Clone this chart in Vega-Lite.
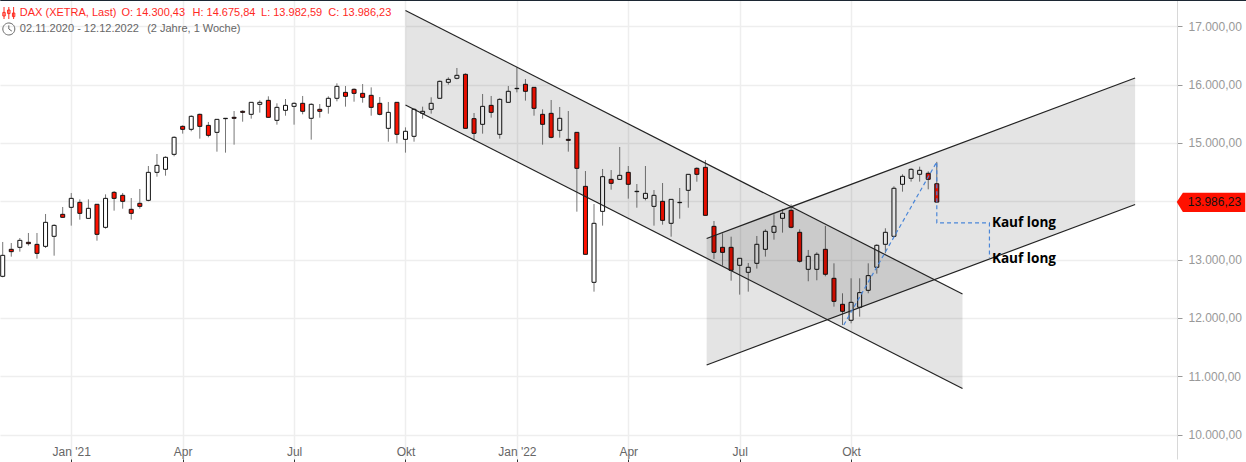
{"$schema":"https://vega.github.io/schema/vega-lite/v6.json","width":1177,"height":459,"autosize":{"type":"none"},"padding":{"left":0,"top":0,"right":69,"bottom":3},"background":"#ffffff","config":{"view":{"stroke":null},"font":"Liberation Sans"},
"datasets":{
"candles":[
{"date":"2020-11-09","open":12713,"high":13302,"low":12696,"close":13073},
{"date":"2020-11-16","open":13176,"high":13284,"low":13050,"close":13136},
{"date":"2020-11-23","open":13210,"high":13370,"low":13136,"close":13330},
{"date":"2020-11-30","open":13296,"high":13456,"low":13239,"close":13273},
{"date":"2020-12-07","open":13261,"high":13456,"low":13016,"close":13107},
{"date":"2020-12-14","open":13227,"high":13782,"low":13199,"close":13639},
{"date":"2020-12-21","open":13399,"high":13605,"low":13067,"close":13587},
{"date":"2020-12-28","open":13776,"high":13902,"low":13719,"close":13725},
{"date":"2021-01-04","open":13896,"high":14142,"low":13582,"close":14050},
{"date":"2021-01-11","open":13982,"high":14033,"low":13685,"close":13793},
{"date":"2021-01-18","open":13707,"high":14033,"low":13707,"close":13879},
{"date":"2021-01-25","open":13948,"high":13948,"low":13324,"close":13433},
{"date":"2021-02-01","open":13553,"high":14119,"low":13530,"close":14050},
{"date":"2021-02-08","open":14153,"high":14176,"low":13839,"close":14050},
{"date":"2021-02-15","open":14102,"high":14142,"low":13873,"close":13999},
{"date":"2021-02-22","open":13862,"high":14056,"low":13685,"close":13793},
{"date":"2021-03-01","open":13965,"high":14211,"low":13873,"close":13913},
{"date":"2021-03-08","open":14016,"high":14605,"low":13999,"close":14496},
{"date":"2021-03-15","open":14496,"high":14811,"low":14422,"close":14616},
{"date":"2021-03-22","open":14548,"high":14771,"low":14439,"close":14754},
{"date":"2021-03-29","open":14805,"high":15114,"low":14771,"close":15097},
{"date":"2021-04-05","open":15285,"high":15302,"low":15160,"close":15234},
{"date":"2021-04-12","open":15234,"high":15474,"low":15200,"close":15457},
{"date":"2021-04-19","open":15491,"high":15503,"low":15074,"close":15285},
{"date":"2021-04-26","open":15302,"high":15360,"low":15097,"close":15131},
{"date":"2021-05-03","open":15182,"high":15411,"low":14851,"close":15405},
{"date":"2021-05-10","open":15417,"high":15423,"low":14834,"close":15423},
{"date":"2021-05-17","open":15440,"high":15548,"low":14971,"close":15423},
{"date":"2021-05-24","open":15543,"high":15560,"low":15365,"close":15525},
{"date":"2021-05-31","open":15491,"high":15697,"low":15417,"close":15697},
{"date":"2021-06-07","open":15663,"high":15731,"low":15520,"close":15697},
{"date":"2021-06-14","open":15731,"high":15800,"low":15434,"close":15440},
{"date":"2021-06-21","open":15388,"high":15680,"low":15314,"close":15611},
{"date":"2021-06-28","open":15560,"high":15754,"low":15468,"close":15645},
{"date":"2021-07-05","open":15628,"high":15697,"low":15314,"close":15680},
{"date":"2021-07-12","open":15680,"high":15806,"low":15491,"close":15543},
{"date":"2021-07-19","open":15423,"high":15680,"low":15057,"close":15663},
{"date":"2021-07-26","open":15577,"high":15668,"low":15434,"close":15543},
{"date":"2021-08-02","open":15628,"high":15800,"low":15503,"close":15766},
{"date":"2021-08-09","open":15766,"high":16023,"low":15714,"close":15971},
{"date":"2021-08-16","open":15868,"high":15977,"low":15623,"close":15800},
{"date":"2021-08-23","open":15920,"high":15937,"low":15708,"close":15851},
{"date":"2021-08-30","open":15851,"high":16011,"low":15691,"close":15783},
{"date":"2021-09-06","open":15817,"high":15954,"low":15468,"close":15611},
{"date":"2021-09-13","open":15680,"high":15788,"low":15474,"close":15491},
{"date":"2021-09-20","open":15251,"high":15703,"low":15022,"close":15525},
{"date":"2021-09-27","open":15697,"high":15697,"low":14994,"close":15148},
{"date":"2021-10-04","open":15062,"high":15268,"low":14834,"close":15200},
{"date":"2021-10-11","open":15114,"high":15594,"low":15022,"close":15577},
{"date":"2021-10-18","open":15508,"high":15623,"low":15417,"close":15543},
{"date":"2021-10-25","open":15577,"high":15783,"low":15503,"close":15680},
{"date":"2021-11-01","open":15766,"high":16069,"low":15766,"close":16057},
{"date":"2021-11-08","open":16040,"high":16126,"low":16000,"close":16091},
{"date":"2021-11-15","open":16109,"high":16286,"low":16091,"close":16160},
{"date":"2021-11-22","open":16177,"high":16194,"low":15251,"close":15251},
{"date":"2021-11-29","open":15417,"high":15514,"low":15039,"close":15165},
{"date":"2021-12-06","open":15320,"high":15840,"low":15160,"close":15628},
{"date":"2021-12-13","open":15645,"high":15806,"low":15434,"close":15525},
{"date":"2021-12-20","open":15148,"high":15766,"low":15074,"close":15748},
{"date":"2021-12-27","open":15697,"high":15977,"low":15697,"close":15886},
{"date":"2022-01-03","open":15931,"high":16297,"low":15868,"close":15937},
{"date":"2022-01-10","open":16006,"high":16097,"low":15726,"close":15886},
{"date":"2022-01-17","open":15954,"high":15954,"low":15468,"close":15594},
{"date":"2022-01-24","open":15491,"high":15577,"low":14971,"close":15320},
{"date":"2022-01-31","open":15508,"high":15737,"low":15080,"close":15097},
{"date":"2022-02-07","open":15217,"high":15617,"low":15091,"close":15423},
{"date":"2022-02-14","open":15062,"high":15548,"low":14851,"close":15045},
{"date":"2022-02-21","open":15182,"high":15182,"low":13822,"close":14565},
{"date":"2022-02-28","open":14256,"high":14519,"low":13090,"close":13090},
{"date":"2022-03-07","open":12610,"high":13953,"low":12450,"close":13622},
{"date":"2022-03-14","open":13827,"high":14554,"low":13582,"close":14422},
{"date":"2022-03-21","open":14376,"high":14536,"low":14199,"close":14308},
{"date":"2022-03-28","open":14376,"high":14931,"low":14376,"close":14445},
{"date":"2022-04-04","open":14496,"high":14605,"low":14045,"close":14291},
{"date":"2022-04-11","open":14165,"high":14296,"low":13890,"close":14171},
{"date":"2022-04-18","open":14050,"high":14605,"low":14016,"close":14136},
{"date":"2022-04-25","open":13913,"high":14193,"low":13582,"close":14102},
{"date":"2022-05-02","open":13999,"high":14313,"low":13599,"close":13673},
{"date":"2022-05-09","open":13622,"high":14033,"low":13393,"close":14033},
{"date":"2022-05-16","open":13976,"high":14228,"low":13702,"close":13982},
{"date":"2022-05-23","open":14188,"high":14462,"low":13890,"close":14462},
{"date":"2022-05-30","open":14565,"high":14582,"low":14336,"close":14462},
{"date":"2022-06-06","open":14582,"high":14708,"low":13759,"close":13759},
{"date":"2022-06-13","open":13570,"high":13662,"low":13010,"close":13124},
{"date":"2022-06-20","open":13210,"high":13450,"low":12896,"close":13124},
{"date":"2022-06-27","open":13210,"high":13393,"low":12638,"close":12816},
{"date":"2022-07-04","open":12902,"high":13022,"low":12399,"close":13022},
{"date":"2022-07-11","open":12782,"high":12942,"low":12450,"close":12868},
{"date":"2022-07-18","open":12936,"high":13405,"low":12845,"close":13262},
{"date":"2022-07-25","open":13176,"high":13519,"low":13051,"close":13485},
{"date":"2022-08-01","open":13468,"high":13777,"low":13342,"close":13571},
{"date":"2022-08-08","open":13708,"high":13868,"low":13462,"close":13794},
{"date":"2022-08-15","open":13845,"high":13948,"low":13537,"close":13554},
{"date":"2022-08-22","open":13468,"high":13519,"low":12948,"close":12971},
{"date":"2022-08-29","open":12833,"high":13165,"low":12628,"close":13056},
{"date":"2022-09-05","open":12833,"high":13125,"low":12645,"close":13091},
{"date":"2022-09-12","open":13176,"high":13577,"low":12713,"close":12748},
{"date":"2022-09-19","open":12679,"high":12936,"low":12193,"close":12284},
{"date":"2022-09-26","open":12233,"high":12422,"low":11879,"close":12113},
{"date":"2022-10-03","open":11959,"high":12679,"low":11907,"close":12267},
{"date":"2022-10-10","open":12182,"high":12679,"low":12021,"close":12433},
{"date":"2022-10-17","open":12473,"high":12936,"low":12422,"close":12725},
{"date":"2022-10-24","open":12868,"high":13262,"low":12759,"close":13245},
{"date":"2022-10-31","open":13262,"high":13537,"low":13108,"close":13468},
{"date":"2022-11-07","open":13399,"high":14257,"low":13394,"close":14223},
{"date":"2022-11-14","open":14291,"high":14463,"low":14165,"close":14428},
{"date":"2022-11-21","open":14394,"high":14566,"low":14337,"close":14548},
{"date":"2022-11-28","open":14463,"high":14594,"low":14337,"close":14531},
{"date":"2022-12-05","open":14480,"high":14514,"low":14205,"close":14377},
{"date":"2022-12-12","open":14300.43,"high":14675.84,"low":13982.59,"close":13986.23}
],
"channels":[
{"channel":"down","date":"2021-10-04","upper":17272,"lower":15652},
{"channel":"down","date":"2023-01-02","upper":12410,"lower":10790},
{"channel":"up","date":"2022-06-07","upper":13362,"lower":11193},
{"channel":"up","date":"2023-05-23","upper":16115,"lower":13945}
],
"path":[
{"date":"2022-09-27","price":11879,"step":1},
{"date":"2022-12-12","price":14675,"step":2},
{"date":"2022-12-12","price":13628,"step":3},
{"date":"2023-01-24","price":13628,"step":4},
{"date":"2023-01-24","price":13028,"step":5}
],
"notes":[
{"date":"2023-01-26","price":13623,"label":"Kauf long"},
{"date":"2023-01-26","price":13005,"label":"Kauf long"}
],
"header":[
{"date":"2020-11-23","price":17229,"label":"DAX (XETRA, Last)","color":"#ff2a1f"},
{"date":"2021-02-14","price":17229,"label":"O: 14.300,43","color":"#ff2a1f"},
{"date":"2021-04-13","price":17229,"label":"H: 14.675,84","color":"#ff2a1f"},
{"date":"2021-06-08","price":17229,"label":"L: 13.982,59","color":"#ff2a1f"},
{"date":"2021-08-02","price":17229,"label":"C: 13.986,23","color":"#ff2a1f"},
{"date":"2020-11-23","price":16955,"label":"02.11.2020 - 12.12.2022","color":"#666666"},
{"date":"2021-03-07","price":16955,"label":"(2 Jahre, 1 Woche)","color":"#666666"}
],
"tag":[
{"date":"2023-06-26","top":13986,"bottom":13986},
{"date":"2023-07-01","top":14147,"bottom":13816},
{"date":"2023-08-21","top":14147,"bottom":13816}
]
},
"encoding":{"x":{"field":"date","type":"temporal","title":null,"scale":{"type":"utc","padding":0,"domain":[{"year":2020,"month":11,"date":6,"hours":19,"utc":true},{"year":2023,"month":6,"date":26,"hours":5,"utc":true}]},"axis":{"values":[{"year":2021,"month":1,"date":4,"utc":true},{"year":2021,"month":4,"date":5,"utc":true},{"year":2021,"month":7,"date":5,"utc":true},{"year":2021,"month":10,"date":4,"utc":true},{"year":2022,"month":1,"date":3,"utc":true},{"year":2022,"month":4,"date":4,"utc":true},{"year":2022,"month":7,"date":4,"utc":true},{"year":2022,"month":10,"date":3,"utc":true}],"labelExpr":"utcmonth(datum.value)==0?'Jan \\''+utcFormat(datum.value,'%y'):utcmonth(datum.value)==3?'Apr':utcmonth(datum.value)==6?'Jul':'Okt'","grid":true,"gridColor":"#eeeeee","gridWidth":1.5,"domain":false,"tickColor":"#333333","tickSize":3,"labelColor":"#666666","labelFontSize":12,"labelFont":"Liberation Sans","labelBaseline":"middle","labelPadding":-11,"labelOverlap":false,"labelBound":false,"labelFlush":false}}},
"layer":[
{"data":{"name":"candles"},"mark":{"type":"rule","color":"#777777","strokeWidth":1},"encoding":{"y":{"field":"high","type":"quantitative","title":null,"scale":{"domain":[9580,17452],"nice":false,"zero":false},"axis":{"orient":"right","values":[10000,11000,12000,13000,14000,15000,16000,17000],"labelExpr":"datum.value==14000?'':replace(format(datum.value,',.0f'),',','.')+',00'","grid":true,"gridColor":"#eeeeee","gridWidth":1.5,"domain":true,"domainColor":"#d8d8d8","tickColor":"#999999","tickSize":5,"labelColor":"#999999","labelFontSize":12,"labelFont":"Liberation Sans","labelPadding":6,"labelOverlap":false}},"y2":{"field":"low"}}},
{"data":{"name":"candles"},"mark":{"type":"bar","size":4,"stroke":"#111111","strokeWidth":1},"encoding":{"y":{"field":"open","type":"quantitative","title":null},"y2":{"field":"close"},"fill":{"condition":{"test":"datum.close<datum.open","value":"#ff1100"},"value":"#ffffff"}}},
{"data":{"name":"channels"},"mark":{"type":"area","color":"#000000","opacity":0.105},"encoding":{"y":{"field":"upper","type":"quantitative","title":null},"y2":{"field":"lower"},"detail":{"field":"channel"}}},
{"data":{"name":"channels"},"mark":{"type":"line","color":"#222222","strokeWidth":1.2},"encoding":{"y":{"field":"upper","type":"quantitative","title":null},"detail":{"field":"channel"}}},
{"data":{"name":"channels"},"mark":{"type":"line","color":"#222222","strokeWidth":1.2},"encoding":{"y":{"field":"lower","type":"quantitative","title":null},"detail":{"field":"channel"}}},
{"data":{"name":"path"},"mark":{"type":"line","color":"#4a86d8","strokeWidth":1.2,"strokeDash":[4,3]},"encoding":{"y":{"field":"price","type":"quantitative","title":null},"order":{"field":"step"}}},
{"data":{"name":"notes"},"mark":{"type":"text","align":"left","baseline":"middle","font":"Open Sans","fontWeight":"bold","fontSize":13.6,"color":"#000000"},"encoding":{"y":{"field":"price","type":"quantitative","title":null},"text":{"field":"label"}}},
{"data":{"name":"header"},"mark":{"type":"text","align":"left","baseline":"middle","font":"Liberation Sans","fontSize":11},"encoding":{"y":{"field":"price","type":"quantitative","title":null},"text":{"field":"label"},"color":{"field":"color","type":"nominal","scale":null}}},
{"data":{"values":[{"date":"2020-11-14","price":17229}]},"mark":{"type":"point","shape":"M-0.8,-1 L-0.8,1 M0,-1 L0,1 M0.8,-1 L0.8,1 M-1,-0.1 L-0.6,-0.1 L-0.6,0.5 L-1,0.5 Z M-0.2,-0.5 L0.2,-0.5 L0.2,0.1 L-0.2,0.1 Z M0.6,0 L1,0 L1,0.6 L0.6,0.6 Z","size":144,"color":"#ff2a1f","strokeWidth":1,"filled":false,"opacity":1},"encoding":{"y":{"field":"price","type":"quantitative","title":null}}},
{"data":{"values":[{"date":"2020-11-14","price":16955}]},"mark":{"type":"point","shape":"M-1,0 A1,1 0 1,1 1,0 A1,1 0 1,1 -1,0 M0,-0.6 L0,0 L0.5,0.35","size":144,"color":"#666666","strokeWidth":1,"filled":false,"opacity":1},"encoding":{"y":{"field":"price","type":"quantitative","title":null}}},
{"data":{"name":"tag"},"mark":{"type":"area","color":"#ff1100","clip":false},"encoding":{"y":{"field":"top","type":"quantitative","title":null},"y2":{"field":"bottom"}}},
{"data":{"values":[{"date":"2023-07-05","price":13986.23,"label":"13.986,23"}]},"mark":{"type":"text","align":"left","baseline":"middle","font":"Liberation Sans","fontSize":12,"color":"#111111"},"encoding":{"y":{"field":"price","type":"quantitative","title":null},"text":{"field":"label"}}},
{"data":{"values":[{"date":"2020-11-07","end":"2023-08-22","price":17452}]},"mark":{"type":"rule","color":"#1c2733","strokeWidth":2},"encoding":{"y":{"field":"price","type":"quantitative","title":null},"x2":{"field":"end"}}}
]}
